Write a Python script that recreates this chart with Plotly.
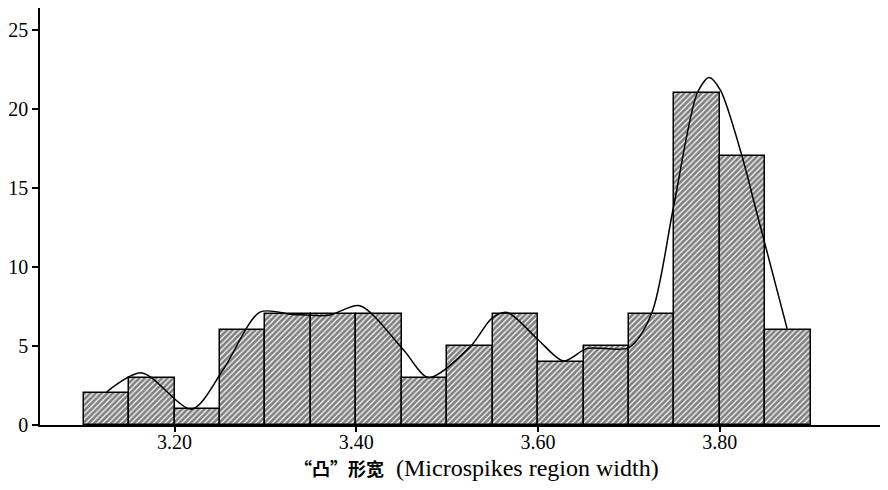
import plotly.graph_objects as go

# histogram bins (left edge) and counts
bin_left = [3.10, 3.15, 3.20, 3.25, 3.30, 3.35, 3.40, 3.45,
            3.50, 3.55, 3.60, 3.65, 3.70, 3.75, 3.80, 3.85]
counts = [2, 3, 1, 6, 7, 7, 7, 3, 5, 7, 4, 5, 7, 21, 17, 6]
bin_width = 0.05

# smoothed curve
curve_x = [3.1255, 3.164, 3.219, 3.2535, 3.294, 3.33, 3.37, 3.404, 3.452, 3.4796,
           3.5255, 3.549, 3.566, 3.60, 3.628, 3.654, 3.70, 3.725, 3.749, 3.775,
           3.788, 3.8006, 3.8245, 3.839, 3.874]
curve_y = [2.1, 3.3, 1.0, 3.5, 7.15, 7.0, 6.95, 7.55, 4.75, 3.0,
           4.96, 6.75, 7.13, 5.4, 4.05, 4.85, 4.9, 7.07, 13.8, 21.0,
           22.0, 21.2, 17.0, 13.8, 6.1]

x_ticks = [3.20, 3.40, 3.60, 3.80]
y_ticks = [0, 5, 10, 15, 20, 25]
x_title_cn = "“凸”形宽"
x_title_en = "(Microspikes region width)"

centers = [b + bin_width / 2 for b in bin_left]

fig = go.Figure()
fig.add_trace(go.Bar(
    x=centers, y=counts, width=bin_width,
    marker=dict(color="white",
                line=dict(color="black", width=1.5),
                pattern=dict(shape="/", fgcolor="black", bgcolor="white",
                             size=4, solidity=0.7)),
    showlegend=False,
))
fig.add_trace(go.Scatter(
    x=curve_x, y=curve_y, mode="lines",
    line=dict(color="black", width=1.5, shape="spline", smoothing=0.8),
    showlegend=False,
))

# page body adds 8px around the figure, so the figure is 8px smaller
fig.update_layout(
    width=880, height=482,
    margin=dict(l=32, r=0, t=0, b=65),
    plot_bgcolor="white", paper_bgcolor="white",
    bargap=0,
    font=dict(family="Liberation Serif, Noto Sans CJK SC", size=20, color="black"),
)
fig.update_xaxes(
    range=[3.052, 3.985], tickvals=x_ticks, tickformat=".2f",
    showgrid=False, zeroline=False, automargin=False,
    showline=True, linecolor="black", linewidth=1.5,
    ticks="outside", ticklen=5, tickcolor="black", tickwidth=1.5,
    ticklabelstandoff=-7,
)
fig.update_yaxes(
    range=[0, 26.4], tickvals=y_ticks,
    showgrid=False, zeroline=False, automargin=False,
    showline=True, linecolor="black", linewidth=1.5,
    ticks="outside", ticklen=6, tickcolor="black", tickwidth=1.5,
)

# axis title as an annotation so it sits exactly under the tick labels
fig.add_annotation(
    text="<span style='font-family:Noto Sans CJK SC;font-size:18px'><b>" + x_title_cn
         + "</b></span>  " + x_title_en,
    xref="paper", yref="paper", x=0.515, y=-0.103,
    xanchor="center", yanchor="middle", showarrow=False,
    font=dict(size=24),
)

fig.write_html("out.html")
